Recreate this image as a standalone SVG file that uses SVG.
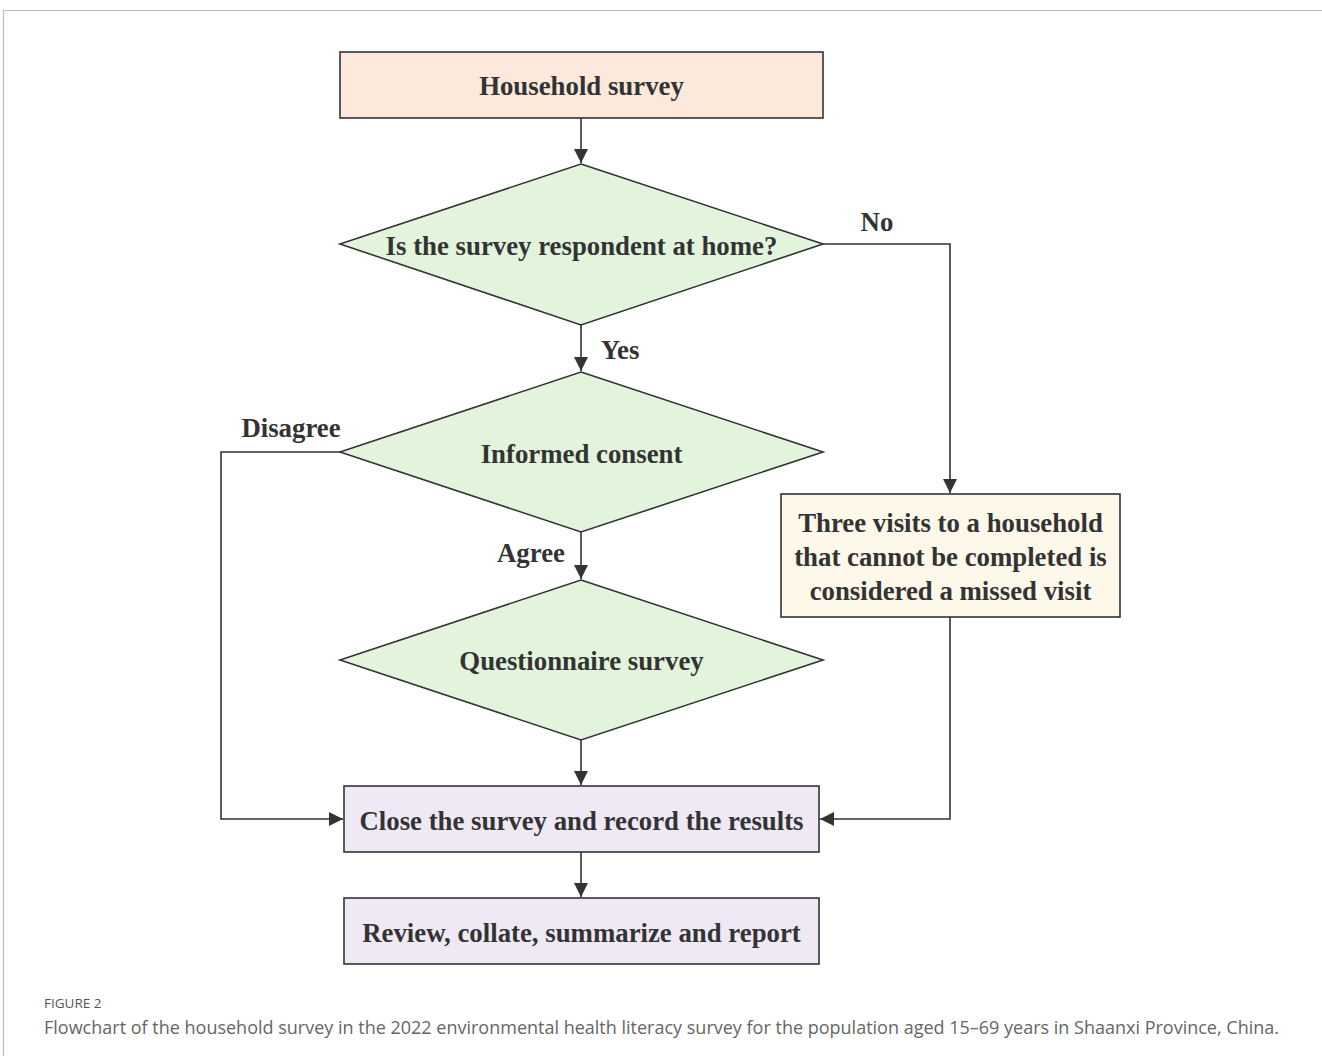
<svg xmlns="http://www.w3.org/2000/svg" width="1322" height="1056" viewBox="0 0 1322 1056">
<defs>
<marker id="ah" viewBox="0 0 10 10" refX="10" refY="5" markerWidth="14" markerHeight="14" markerUnits="userSpaceOnUse" orient="auto">
<path d="M0,0 L10,5 L0,10 Z" fill="#333"/>
</marker>
<style>
.n{stroke:#333;stroke-width:1.6}
.t{font-family:"Liberation Serif","Times New Roman",serif;font-weight:bold;font-size:26.8px;fill:#333;text-anchor:middle}
.l{font-family:"Liberation Serif","Times New Roman",serif;font-weight:bold;font-size:26.8px;fill:#333;text-anchor:middle}
.c{fill:none;stroke:#333;stroke-width:1.6}
</style>
</defs>
<rect width="1322" height="1056" fill="#fff"/>
<path d="M1322,10.5 H3.5 V1056" fill="none" stroke="#bbb" stroke-width="1.2"/>
<g id="connectors">
<path class="c" d="M581,118 V163" marker-end="url(#ah)"/>
<path class="c" d="M823,244 H950 V493" marker-end="url(#ah)"/>
<path class="c" d="M581,325 V371" marker-end="url(#ah)"/>
<path class="c" d="M340,452 H221 V819 H343" marker-end="url(#ah)"/>
<path class="c" d="M581,532 V579" marker-end="url(#ah)"/>
<path class="c" d="M581,740 V785" marker-end="url(#ah)"/>
<path class="c" d="M950,617 V819 H820" marker-end="url(#ah)"/>
<path class="c" d="M581,852 V897" marker-end="url(#ah)"/>
<text class="l" x="877" y="231">No</text>
<text class="l" x="620" y="359">Yes</text>
<text class="l" x="291" y="437">Disagree</text>
<text class="l" x="531" y="562">Agree</text>
</g>
<g id="household">
<rect class="n" x="340" y="52" width="483" height="66" fill="#fce9db"/>
<text class="t" x="581.5" y="95">Household survey</text>
</g>
<g id="at-home">
<polygon class="n" points="581,164 823,244 581,325 340,244" fill="#e2f5dc"/>
<text class="t" x="581.5" y="255">Is the survey respondent at home?</text>
</g>
<g id="consent">
<polygon class="n" points="581,372 823,452 581,532 340,452" fill="#e2f5dc"/>
<text class="t" x="581.5" y="463">Informed consent</text>
</g>
<g id="questionnaire">
<polygon class="n" points="581,580 823,660 581,740 340,660" fill="#e2f5dc"/>
<text class="t" x="581.5" y="670">Questionnaire survey</text>
</g>
<g id="missed">
<rect class="n" x="781" y="494" width="339" height="123" fill="#fdf8ea"/>
<text class="t" x="950.5" y="532">Three visits to a household</text>
<text class="t" x="950.5" y="566">that cannot be completed is</text>
<text class="t" x="950.5" y="600">considered a missed visit</text>
</g>
<g id="close">
<rect class="n" x="344" y="786" width="475" height="66" fill="#efe9f6"/>
<text class="t" x="581.5" y="830">Close the survey and record the results</text>
</g>
<g id="review">
<rect class="n" x="344" y="898" width="475" height="66" fill="#efe9f6"/>
<text class="t" x="581.5" y="942">Review, collate, summarize and report</text>
</g>
<g id="caption" font-family="'Open Sans','Noto Sans',sans-serif" fill="#555">
<text x="44" y="1008" font-size="13.5">FIGURE 2</text>
<text x="44" y="1034" font-size="18" fill="#666">Flowchart of the household survey in the 2022 environmental health literacy survey for the population aged 15–69 years in Shaanxi Province, China.</text>
</g>
</svg>
